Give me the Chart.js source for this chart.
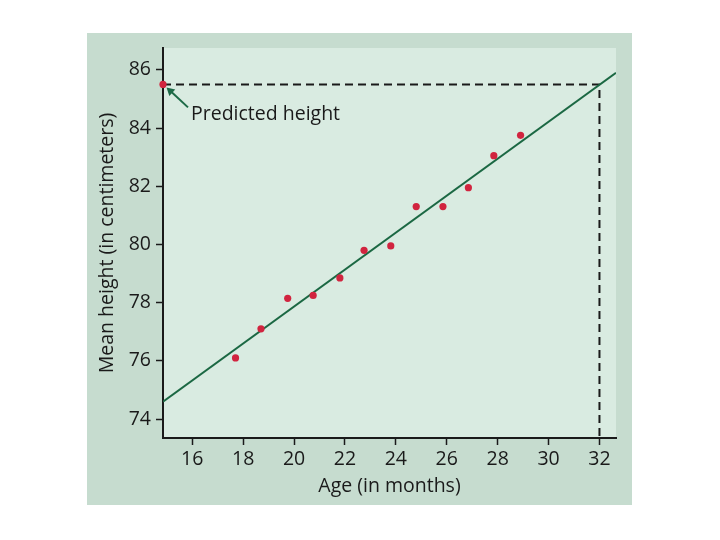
<!DOCTYPE html>
<html>
<head>
<meta charset="utf-8">
<script src="https://cdn.jsdelivr.net/npm/chart.js@4.4.1/dist/chart.umd.min.js"></script>
<style>
  html, body { margin: 0; padding: 0; background: #fff; }
  canvas { display: block; }
</style>
</head>
<body>
<canvas id="grafico" width="720" height="540"></canvas>
<script>
// edades (meses) y alturas medias (cm)
const edades = [17.7, 18.7, 19.75, 20.75, 21.8, 22.75, 23.8, 24.8, 25.85, 26.85, 27.85, 28.9];
const alturas = [76.1, 77.1, 78.15, 78.25, 78.85, 79.8, 79.95, 81.3, 81.3, 81.95, 83.05, 83.75];

// recta de regresión, de borde a borde del eje
const rectaX = [14.85, 32.65];
const rectaY = [74.6, 85.9];

// guía discontinua hasta la predicción a los 32 meses
const guiaX = [14.85, 32, 32];
const guiaY = [85.5, 85.5, 73.35];

const prediccionX = [14.85];
const prediccionY = [85.5];

const ticksX = [16, 18, 20, 22, 24, 26, 28, 30, 32];
const ticksY = [74, 76, 78, 80, 82, 84, 86];

const tituloX = "Age (in months)";
const tituloY = "Mean height (in centimeters)";
const nota = "Predicted height";

const puntos = (xs, ys) => xs.map((x, i) => ({ x, y: ys[i] }));
const negro = "#1a1a1a";
const fuente = { family: "'Open Sans', sans-serif", size: 19.5 };

Chart.defaults.font.family = fuente.family;

// paneles verdes de fondo
const fondo = {
  id: "fondo",
  beforeDraw(c) {
    const { ctx, chartArea: a } = c;
    ctx.save();
    ctx.fillStyle = "#c6dccf";
    ctx.fillRect(a.left - 76, a.top - 15, a.right - a.left + 92, a.bottom - a.top + 82);
    ctx.fillStyle = "#d9ebe1";
    ctx.fillRect(a.left, a.top, a.right - a.left, a.bottom - a.top);
    ctx.restore();
  }
};

// flecha + texto "Predicted height"
const anotacion = {
  id: "anotacion",
  afterDatasetsDraw(c) {
    const { ctx, scales: { x, y } } = c;
    const px = x.getPixelForValue(prediccionX[0]);
    const py = y.getPixelForValue(prediccionY[0]);
    const x0 = px + 25, y0 = py + 23, x1 = px + 3.5, y1 = py + 3;
    const ang = Math.atan2(y1 - y0, x1 - x0);
    ctx.save();
    ctx.strokeStyle = ctx.fillStyle = "#1d6a47";
    ctx.lineWidth = 2;
    ctx.beginPath();
    ctx.moveTo(x0, y0);
    ctx.lineTo(x1 - 5 * Math.cos(ang), y1 - 5 * Math.sin(ang));
    ctx.stroke();
    ctx.beginPath();
    ctx.moveTo(x1, y1);
    ctx.lineTo(x1 - 9 * Math.cos(ang - 0.5), y1 - 9 * Math.sin(ang - 0.5));
    ctx.lineTo(x1 - 9 * Math.cos(ang + 0.5), y1 - 9 * Math.sin(ang + 0.5));
    ctx.closePath();
    ctx.fill();
    ctx.fillStyle = negro;
    ctx.font = fuente.size + "px " + fuente.family;
    ctx.textBaseline = "alphabetic";
    ctx.fillText(nota, px + 28, py + 36);
    ctx.restore();
  }
};

const eje = {
  border: { color: negro, width: 2 },
  grid: { drawOnChartArea: false, drawTicks: true, tickLength: 7, tickColor: negro, tickWidth: 1.5 }
};

new Chart(document.getElementById("grafico"), {
  type: "scatter",
  data: {
    datasets: [
      {
        data: puntos(edades, alturas),
        backgroundColor: "#d1243f", borderWidth: 0,
        pointRadius: 3.6, order: 0
      },
      {
        data: puntos(prediccionX, prediccionY),
        backgroundColor: "#d1243f", borderWidth: 0,
        pointRadius: 3.6, clip: false, order: 0
      },
      {
        data: puntos(rectaX, rectaY),
        showLine: true, borderColor: "#1b6843", borderWidth: 2,
        pointRadius: 0, order: 2
      },
      {
        data: puntos(guiaX, guiaY),
        showLine: true, borderColor: negro, borderWidth: 2,
        borderDash: [8, 5], pointRadius: 0, clip: false, order: 3
      }
    ]
  },
  options: {
    responsive: false,
    animation: false,
    events: [],
    layout: { padding: { left: 0, top: 48, right: 104, bottom: 0 } },
    plugins: { legend: { display: false }, tooltip: { enabled: false } },
    scales: {
      x: {
        type: "linear", min: 14.85, max: 32.65,
        afterBuildTicks: s => { s.ticks = ticksX.map(v => ({ value: v })); },
        afterFit: s => { s.height = 102; },
        ...eje,
        ticks: { color: negro, font: fuente, padding: 3, maxRotation: 0 },
        title: { display: true, text: tituloX, color: negro, font: fuente, padding: { top: 0, bottom: 42 } }
      },
      y: {
        type: "linear", min: 73.35, max: 86.75,
        afterBuildTicks: s => { s.ticks = ticksY.map(v => ({ value: v })); },
        afterFit: s => { s.width = 163; },
        ...eje,
        ticks: { color: negro, font: fuente, padding: 5 },
        title: { display: true, text: tituloY, color: negro, font: fuente, padding: { top: 96, bottom: 0 } }
      }
    }
  },
  plugins: [fondo, anotacion]
});
</script>
</body>
</html>
